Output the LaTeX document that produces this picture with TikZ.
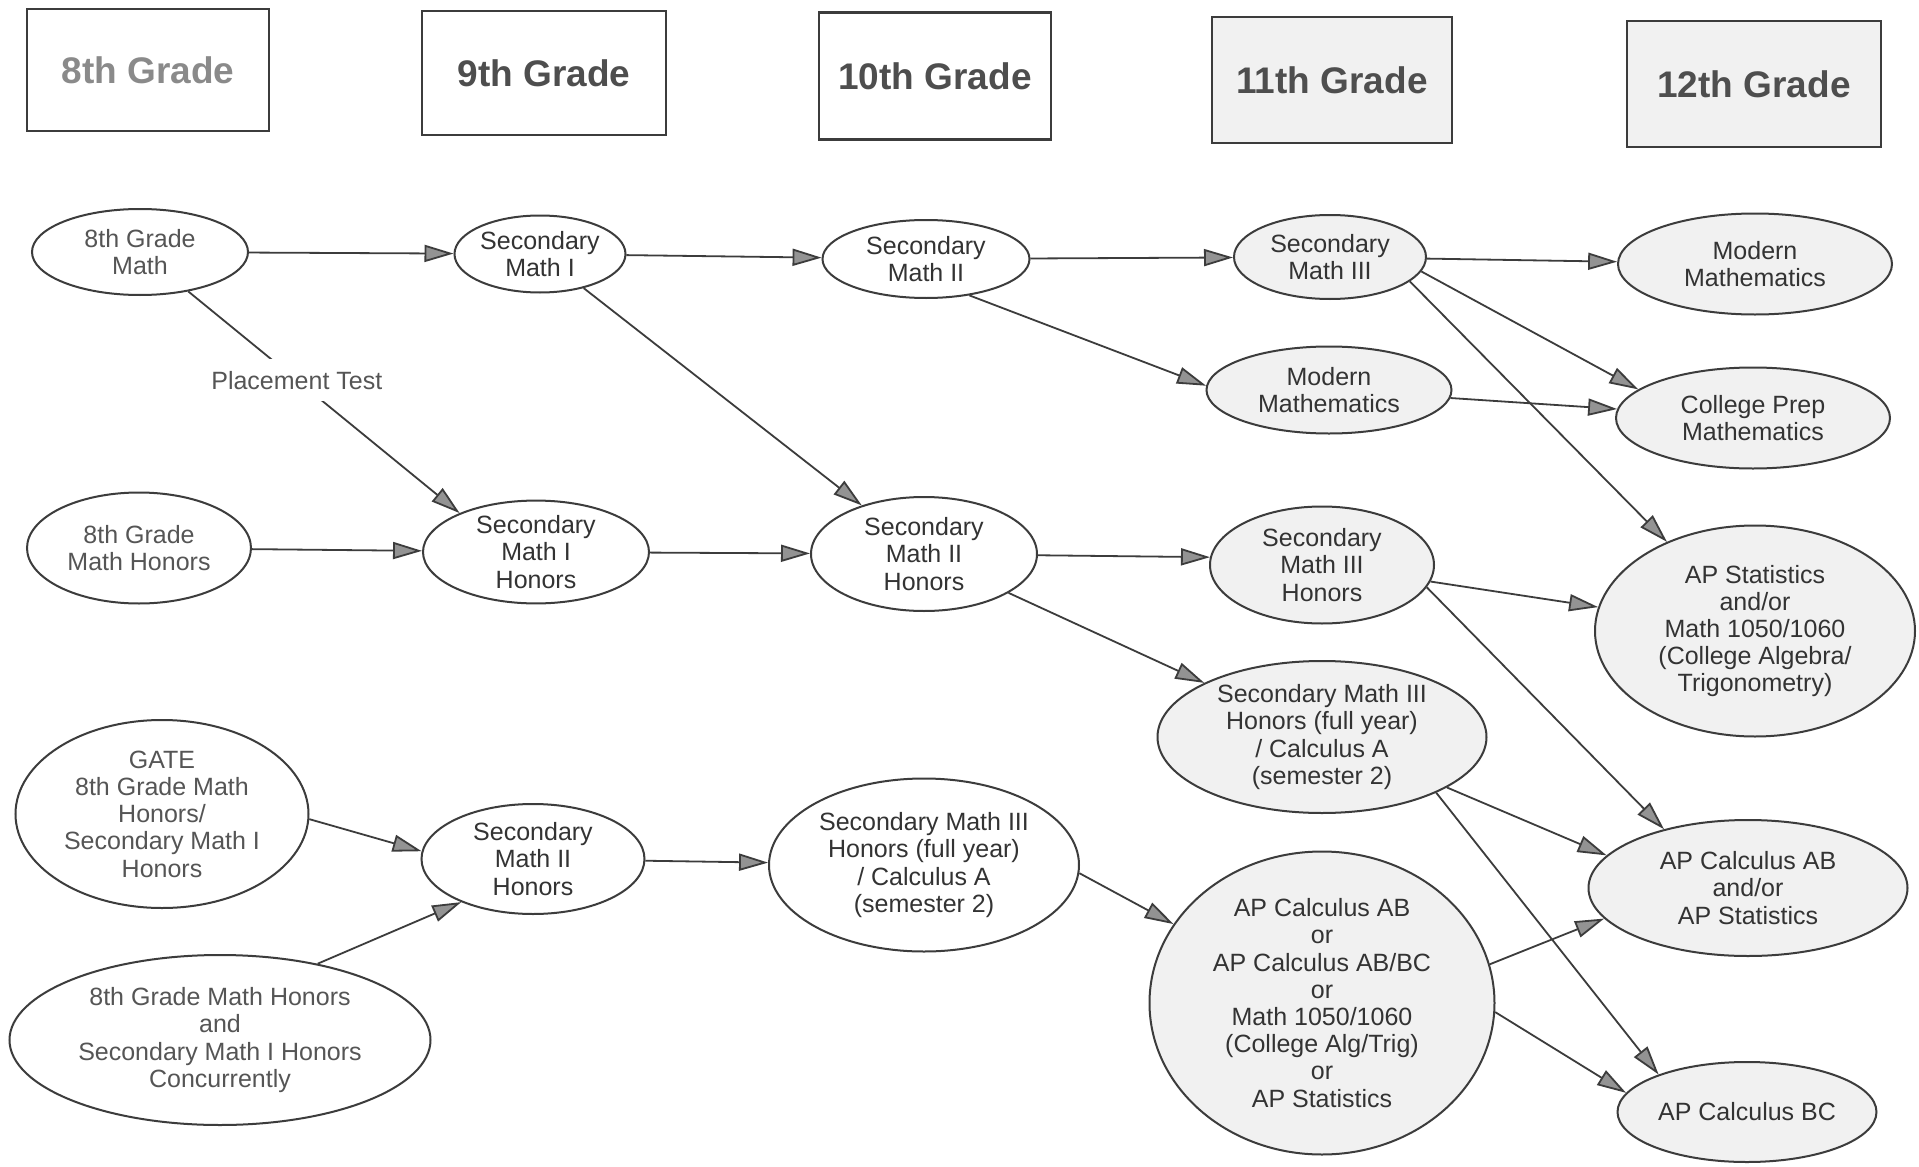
\documentclass[tikz,border=0pt]{standalone}
\usepackage{fontspec}
\setmainfont{Liberation Sans}
\usetikzlibrary{arrows.meta,shapes.geometric}
\definecolor{txt}{HTML}{333333}
\definecolor{txtlight}{HTML}{555555}
\definecolor{hdrlight}{HTML}{8A8A8A}
\definecolor{hdr}{HTML}{4E4E4E}
\definecolor{shade}{HTML}{F1F1F1}
\definecolor{edgecol}{HTML}{3C3C3C}
\definecolor{tipfill}{HTML}{939393}
\begin{document}
\begin{tikzpicture}[x=0.5pt,y=-0.5pt,
  course/.style={ellipse, draw=edgecol, line width=1pt, inner sep=0pt, align=center, text=txt, font=\fontsize{12.5}{13.6}\selectfont},
  sz/.style 2 args={minimum width=#1pt, minimum height=#2pt},
  faint/.style={text=txtlight},
  shaded/.style={fill=shade},
  hdrbox/.style={draw=edgecol, line width=1.3pt, inner sep=0pt, font=\fontsize{18.5}{22}\selectfont\bfseries, text=hdr},
  flow/.style={draw=edgecol, line width=0.9pt, -{Triangle[length=14.5pt,width=8.5pt,fill=tipfill]}},
]
\fill[white] (0,0) rectangle (1919,1167);
\useasboundingbox (0,0) rectangle (1919,1167);

% headers
\node[hdrbox, sz={121}{61}, text=hdrlight] (h8) at (148,70) {8th Grade};
\node[hdrbox, sz={122}{62}] (h9) at (544,73) {9th Grade};
\node[hdrbox, sz={116}{63.5}] (h10) at (935,76) {10th Grade};
\node[hdrbox, sz={120}{63}, shaded] (h11) at (1332,80) {11th Grade};
\node[hdrbox, sz={127}{63}, shaded] (h12) at (1754,84) {12th Grade};

% 8th grade column
\node[course, faint, sz={108}{43}] (A) at (140,252) {8th Grade\\Math};
\node[course, faint, sz={112}{55.5}] (H) at (139,548) {8th Grade\\Math Honors};
\node[course, faint, sz={146.5}{94}] (N) at (162,814) {GATE\\8th Grade Math\\Honors/\\Secondary Math I\\Honors};
\node[course, faint, sz={210.5}{85}] (Q) at (220,1040) {8th Grade Math Honors\\and\\Secondary Math I Honors\\Concurrently};

% 9th grade column
\node[course, sz={85.5}{38.5}] (B) at (540,254) {Secondary\\Math I};
\node[course, sz={113}{50}] (I) at (536,552) {Secondary\\Math I\\Honors};
\node[course, sz={111.5}{55}] (O) at (533,859) {Secondary\\Math II\\Honors};

% 10th grade column
\node[course, sz={103.5}{39}] (C) at (926,259) {Secondary\\Math II};
\node[course, sz={113}{57}] (J) at (924,554) {Secondary\\Math II\\Honors};
\node[course, sz={155}{86.5}] (P) at (924,865) {Secondary Math III\\Honors (full year)\\/ Calculus A\\(semester 2)};

% 11th grade column
\node[course, shaded, sz={96}{42}] (D) at (1330,257) {Secondary\\Math III};
\node[course, shaded, sz={122.5}{43.5}] (F) at (1329,390) {Modern\\Mathematics};
\node[course, shaded, sz={112}{58.5}] (K) at (1322,565) {Secondary\\Math III\\Honors};
\node[course, shaded, sz={164.5}{76}] (M) at (1322,737) {Secondary Math III\\Honors (full year)\\/ Calculus A\\(semester 2)};
\node[course, shaded, sz={172.5}{151.5}] (R) at (1322,1003) {AP Calculus AB\\or\\AP Calculus AB/BC\\or\\Math 1050/1060\\(College Alg/Trig)\\or\\AP Statistics};

% 12th grade column
\node[course, shaded, sz={137}{50.5}] (E) at (1755,264) {Modern\\Mathematics};
\node[course, shaded, sz={137}{50.5}] (G) at (1753,418) {College Prep\\Mathematics};
\node[course, shaded, sz={160}{105.5}] (L) at (1755,631) {AP Statistics\\and/or\\Math 1050/1060\\(College Algebra/\\Trigonometry)};
\node[course, shaded, sz={159.5}{68}] (S) at (1748,888) {AP Calculus AB\\and/or\\AP Statistics};
\node[course, shaded, sz={129.5}{50}] (T) at (1747,1112) {AP Calculus BC};

% connectors
\draw[flow] (A) -- (B);
\draw[flow] (A) -- node[pos=0.4, fill=white, text=txtlight, font=\fontsize{12.5}{13.6}\selectfont, inner xsep=1pt, inner ysep=6pt] (pt) {Placement Test} (I.153);
\draw[flow] (B) -- (C);
\draw[flow] (B) -- (J);
\draw[flow] (C) -- (D);
\draw[flow] (C.-40) -- (F.178);
\draw[flow] (D) -- (E);
\draw[flow] (D.-9) -- (G.166);
\draw[flow] (D.-17) -- (L);
\draw[flow] (F) -- (G);
\draw[flow] (H) -- (I);
\draw[flow] (I) -- (J);
\draw[flow] (J) -- (K.176);
\draw[flow] (J) -- (M);
\draw[flow] (K) -- (L);
\draw[flow] (K.-12) -- (S.145);
\draw[flow] (M.-22) -- (S.167);
\draw[flow] (M.-26) -- (T.157);
\draw[flow] (N.-2) -- (O.176);
\draw[flow] (Q.38) -- (O.211);
\draw[flow] (O) -- (P);
\draw[flow] (P.-3) -- (R.152);
\draw[flow] (R.13) -- (S.192);
\draw[flow] (R.-3) -- (T.171);
\end{tikzpicture}
\end{document}
